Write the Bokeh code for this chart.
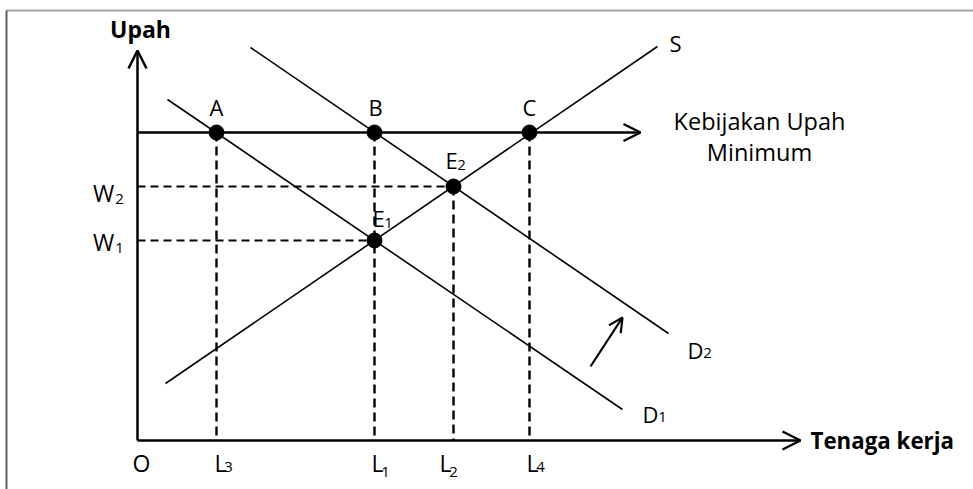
from bokeh.plotting import figure
from bokeh.models import Range1d, Arrow, OpenHead
from bokeh.core.properties import value
from bokeh.embed import file_html
from bokeh.resources import INLINE

# ---- diagram values (units: quantity of labour / wage) ----
x_axis_end = 663
y_axis_end = 390
min_wage = 308
min_wage_end = 503
W1, W2 = 200, 254
L3, L1, L2, L4 = 79, 237, 316, 392
D1_x = [30, 485]
D1_y = [341, 31]
D2_x = [113, 531]
D2_y = [393, 107]
S_x = [28, 520]
S_y = [57, 394]
shift_x = [453, 485]
shift_y = [74, 123]

pt_names = ["A", "B", "C", "E1", "E2"]
pt_x = [L3, L1, L4, L1, L2]
pt_y = [min_wage, min_wage, min_wage, W1, W2]

FONT = value("Open Sans")

p = figure(width=973, height=489, output_backend="svg", toolbar_location=None,
           x_range=Range1d(-137, 836), y_range=Range1d(-49, 440),
           x_axis_type=None, y_axis_type=None, min_border=0,
           min_border_left=0, min_border_right=0, min_border_top=0, min_border_bottom=0)
p.grid.visible = False
p.outline_line_color = None
p.background_fill_color = "white"

# page frame lines
p.segment(x0=[-131], y0=[430], x1=[836], y1=[430], line_color="#a6a6a6", line_width=2)
p.segment(x0=[-131], y0=[430], x1=[-131], y1=[-49], line_color="#5f5f5f", line_width=2)

# axes with arrows
p.add_layout(Arrow(end=OpenHead(size=18, line_width=2.5, line_color="black"),
                   x_start=0, y_start=0, x_end=x_axis_end, y_end=0,
                   line_width=2.5, line_color="black"))
p.add_layout(Arrow(end=OpenHead(size=18, line_width=2.5, line_color="black"),
                   x_start=0, y_start=0, x_end=0, y_end=y_axis_end,
                   line_width=2.5, line_color="black"))
# minimum wage line
p.add_layout(Arrow(end=OpenHead(size=17, line_width=2.5, line_color="black"),
                   x_start=0, y_start=min_wage, x_end=min_wage_end, y_end=min_wage,
                   line_width=2.5, line_color="black"))
# shift arrow
p.add_layout(Arrow(end=OpenHead(size=14, line_width=2.2, line_color="black"),
                   x_start=shift_x[0], y_start=shift_y[0], x_end=shift_x[1], y_end=shift_y[1],
                   line_width=2.2, line_color="black"))

# dashed guide lines
p.segment(x0=[0, 0], y0=[W2, W1], x1=[L2, L1], y1=[W2, W1],
          line_color="black", line_width=1.8, line_dash="8 5")
p.segment(x0=[L3, L1, L2, L4], y0=[min_wage, min_wage, W2, min_wage],
          x1=[L3, L1, L2, L4], y1=[0, 0, 0, 0],
          line_color="black", line_width=2.4, line_dash="9 5")

# curves
for xs, ys in [(D1_x, D1_y), (D2_x, D2_y), (S_x, S_y)]:
    p.line(xs, ys, line_color="black", line_width=1.6)

# points
p.scatter(pt_x, pt_y, size=15, color="black")

def label(x, y, t, size="22px", bold=False, align="center", baseline="middle"):
    p.text(x=[x], y=[y], text=[t], text_font=FONT, text_font_size=size,
           text_font_style="bold" if bold else "normal",
           text_align=align, text_baseline=baseline, text_color="black")

SUB = "15px"
AX = "23px"
label(3, 412, "Upah", size="23px", bold=True)
label(L3, min_wage + 26, "A")
label(L1 + 1, min_wage + 26, "B")
label(L4, min_wage + 26, "C")
label(L2 - 2, W2 + 27, "E")
label(L2 + 8, W2 + 22, "2", size=SUB)
label(L1 + 4, W1 + 23, "E")
label(L1 + 14, W1 + 18, "1", size=SUB)
label(-34, W2 - 6, "W", size=AX)
label(-18, W2 - 12, "2", size=SUB)
label(-34, W1 - 1, "W", size=AX)
label(-18, W1 - 7, "1", size=SUB)
label(4, -22, "O", size=AX)
label(L3 + 4, -22, "L", size=AX)
label(L3 + 12, -26, "3", size=SUB)
label(L1 + 3, -22, "L", size=AX)
label(L1 + 11, -31, "1", size=SUB)
label(L2 - 8, -22, "L", size=AX)
label(L2 + 0, -31, "2", size=SUB)
label(L4 + 3, -22, "L", size=AX)
label(L4 + 11, -26, "4", size=SUB)
label(S_x[1] + 18, S_y[1] + 4, "S")
label(622, 320, "Kebijakan Upah", size="23.5px")
label(622, 289, "Minimum", size="23.5px")
label(D2_x[1] + 27, D2_y[1] - 16, "D")
label(D2_x[1] + 39, D2_y[1] - 19, "2", size=SUB)
label(D1_x[1] + 28, D1_y[1] - 4, "D")
label(D1_x[1] + 40, D1_y[1] - 7, "1", size=SUB)
label(x_axis_end + 10, 0, "Tenaga kerja", size="22.3px", bold=True, align="left")

open("out.html", "w").write(file_html(p, INLINE))
